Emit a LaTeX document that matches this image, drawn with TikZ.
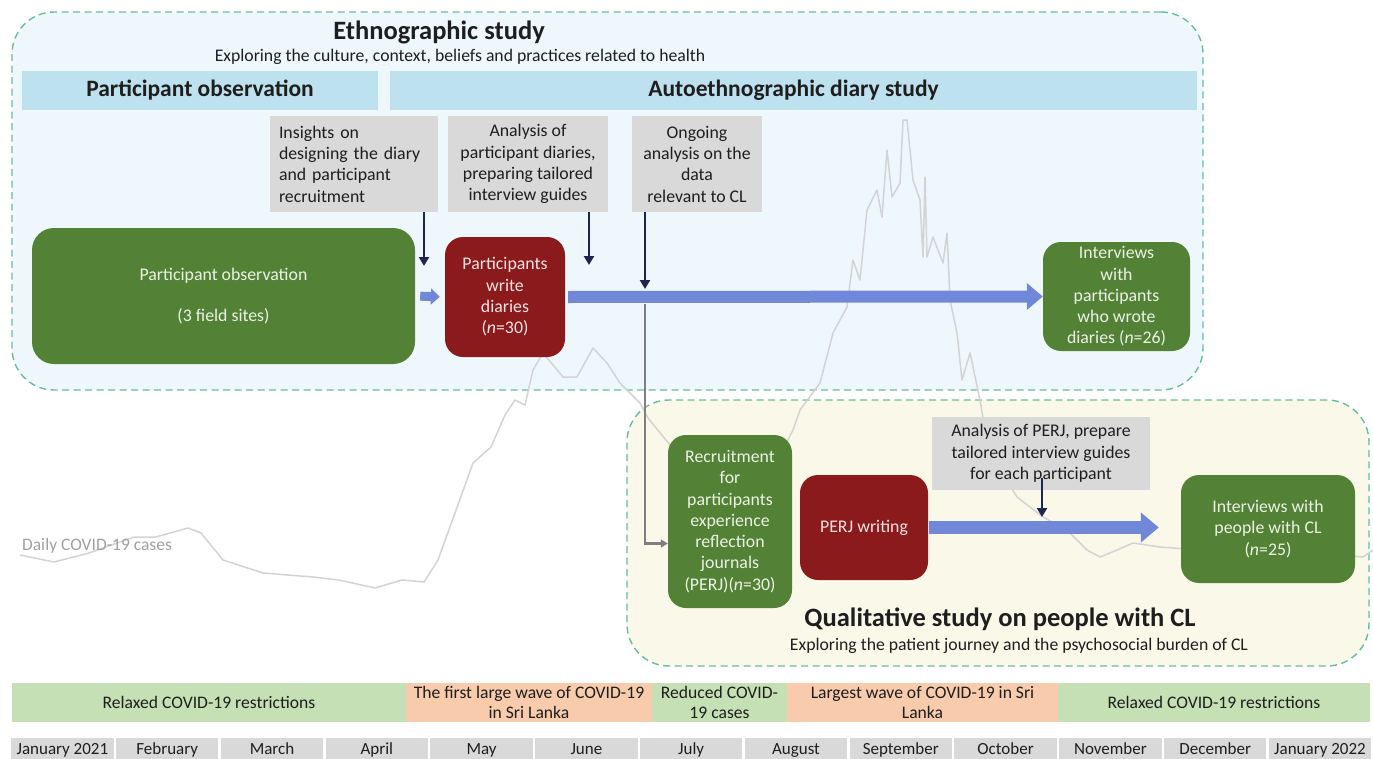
\documentclass[tikz,border=0pt]{standalone}
\usepackage{fontspec}
\setmainfont{Carlito}
\usetikzlibrary{arrows.meta,calc}
\definecolor{ethfill}{HTML}{EEF8FC}
\definecolor{qualfill}{HTML}{FAF8E8}
\definecolor{dashgreen}{HTML}{67BD9C}
\definecolor{hdrblue}{HTML}{BEE1EF}
\definecolor{boxgray}{HTML}{D9D9D9}
\definecolor{boxgreen}{HTML}{538135}
\definecolor{boxred}{HTML}{8B1A1C}
\definecolor{arrblue}{HTML}{7188D9}
\definecolor{navy}{HTML}{1E2650}
\definecolor{conngray}{HTML}{7F7F7F}
\definecolor{covid}{HTML}{D3D3D3}
\definecolor{phgreen}{HTML}{C6E0B5}
\definecolor{phorange}{HTML}{F7CBAC}
\definecolor{greentext}{HTML}{ECF3E6}
\definecolor{redtext}{HTML}{F9E3E3}
\definecolor{textdark}{HTML}{1E1E1E}
\definecolor{labelgray}{HTML}{A0A0A0}
\begin{document}
\begin{tikzpicture}[x=1pt,y=-1pt,
  container/.style={draw=dashgreen, line width=1.4pt, dash pattern=on 7pt off 4.5pt, rounded corners=42pt},
  boxfont/.style={font={\fontsize{17.8}{21.3}\selectfont}},
  greenbox/.style={boxfont, fill=boxgreen, text=greentext, rounded corners=18pt, align=center, inner sep=1pt},
  redbox/.style={boxfont, fill=boxred, text=redtext, rounded corners=18pt, align=center, inner sep=1pt},
  graybox/.style={boxfont, fill=boxgray, text=textdark, align=center, inner sep=1pt},
  hdr/.style={fill=hdrblue, text=textdark, font={\fontsize{23.5}{27}\selectfont\bfseries}, inner sep=0pt},
  titlefont/.style={text=textdark, font={\fontsize{26.5}{31}\selectfont\bfseries}, inner sep=0pt},
  subfont/.style={text=textdark, font={\fontsize{17.7}{21}\selectfont}, inner sep=0pt},
  bluearr/.style={draw=arrblue, line width=12pt, -{Triangle[length=16pt,width=26pt]}},
  bluearrb/.style={draw=arrblue, line width=13pt, -{Triangle[length=18pt,width=29pt]}},
  smallblue/.style={draw=arrblue, line width=9pt, -{Triangle[length=9pt,width=16pt]}},
  navyarr/.style={draw=navy, line width=2.8pt, -{Triangle[length=9pt,width=10pt]}},
  grayconn/.style={draw=conngray, line width=2.8pt, -{Triangle[length=7pt,width=8pt]}},
  covidline/.style={draw=covid, line width=1.5pt, line join=round},
  phase/.style={font={\fontsize{17.6}{20}\selectfont}, text=textdark, align=center, inner sep=0pt, minimum height=39pt},
  monthcell/.style={fill=boxgray, draw=white, line width=2.5pt, font={\fontsize{17}{18}\selectfont}, text=textdark, inner sep=0pt, text height=12pt, text depth=4pt, minimum width=104.8pt, minimum height=28pt}
]
\useasboundingbox (0,0) rectangle (1373,758);

% containers
\node[container, fill=ethfill, minimum width=1191pt, minimum height=378pt] (eth) at (607.5,201) {};
\node[container, fill=qualfill, minimum width=742pt, minimum height=266pt] (qual) at (998,533) {};

% daily covid curve
\draw[covidline] plot coordinates {(20,555) (54,562) (89,553) (134,537) (156,537) (188,528) (201,533) (223,560) (263,573) (313,577) (339,580) (375,588) (402,580) (424,582) (438,560) (455,513) (473,463) (491,447) (505,415) (515,400) (525,405) (533,370) (543,353) (563,377) (577,377) (593,348) (607,363) (620,383) (640,403) (648,418) (670,445) (700,470) (740,470) (780,455) (793,430) (800,410) (820,383) (833,333) (847,307) (853,260) (860,280) (867,210) (877,190) (882,217) (887,150) (892,197) (900,183) (903,120) (907,120) (913,180) (920,200) (923,257) (925,177) (927,257) (933,237) (943,263) (947,233) (950,300) (957,333) (962,380) (970,353) (980,400) (985,430) (1000,470) (1017,497) (1043,517) (1067,530) (1087,550) (1100,557) (1117,550) (1133,543) (1160,547) (1200,550) (1250,548) (1300,552) (1363,557) (1373,550)};

% headers
\node[hdr, minimum width=356pt, minimum height=39pt] (hpo) at (200,90.5) {Participant observation};
\node[hdr, minimum width=807pt, minimum height=39pt] (had) at (793.5,90.5) {Autoethnographic diary study};

% gray boxes
\node[graybox, text width=150pt, align=left, inner xsep=9pt, minimum height=96pt] (g1) at (354,164) {Insights on\\designing the diary\\and participant\\recruitment};
\node[graybox, minimum width=160pt, minimum height=96pt] (g2) at (528,164) {Analysis of\\participant diaries,\\preparing tailored\\interview guides};
\node[graybox, minimum width=130pt, minimum height=96pt] (g3) at (697,164) {Ongoing\\analysis on the\\data\\relevant to CL};
\node[graybox, minimum width=218pt, minimum height=73pt] (g4) at (1041,453.5) {Analysis of PERJ, prepare\\tailored interview guides\\for each participant};

% process boxes
\node[greenbox, minimum width=383pt, minimum height=136pt, rounded corners=22pt] (po) at (223.5,296) {Participant observation\\[20pt](3 field sites)};
\node[redbox, minimum width=120pt, minimum height=120pt] (diaries) at (505,297) {Participants\\write\\diaries\\(\textit{n}=30)};
\node[greenbox, minimum width=147pt, minimum height=109pt] (int1) at (1116.5,296.5) {Interviews\\with\\participants\\who wrote\\diaries (\textit{n}=26)};
\node[greenbox, minimum width=124pt, minimum height=173pt] (recruit) at (730,521.5) {Recruitment\\for\\participants\\experience\\reflection\\journals\\(PERJ)(\textit{n}=30)};
\node[redbox, minimum width=128pt, minimum height=105pt] (perj) at (864,527.5) {PERJ writing};
\node[greenbox, minimum width=174pt, minimum height=108pt] (int2) at (1268,529) {Interviews with\\people with CL\\(\textit{n}=25)};

% connectors
\coordinate (gc) at (645,304);
\draw[grayconn] (gc) |- ([yshift=-22pt]recruit.west);
\draw[smallblue, shorten <=5pt, shorten >=5pt] (po.east) -- (diaries.west);
\draw[bluearr, shorten <=3pt] (diaries.east) -- (int1.west);
\draw[bluearrb, shorten <=1pt, shorten >=22pt] (perj.east) -- (perj.east -| int2.west);
\coordinate (t1) at (424,266);
\coordinate (t2) at (589,265);
\coordinate (t3) at (645,289);
\coordinate (t4) at (1042,517);
\draw[navyarr] (g1.south -| t1) -- (t1);
\draw[navyarr] (g2.south -| t2) -- (t2);
\draw[navyarr] (g3.south -| t3) -- (t3);
\draw[navyarr] ($(g4.south)+(1,-12)$) -- (t4);

% titles
\node[titlefont] (ettl) at (439,32) {Ethnographic study};
\node[subfont] (etsub) at (460,57) {Exploring the culture, context, beliefs and practices related to health};
\node[titlefont] (qttl) at (1000,619) {Qualitative study on people with CL};
\node[subfont] (qsub) at (1019,646) {Exploring the patient journey and the psychosocial burden of CL};
\node[text=labelgray, font={\fontsize{17.5}{20}\selectfont}, inner sep=0pt] (lbl) at (97,546) {Daily COVID-19 cases};

% phase bar
\node[phase, fill=phgreen, minimum width=394pt] (p1) at (209,702.5) {Relaxed COVID-19 restrictions};
\node[phase, fill=phorange, minimum width=246pt] (p2) at (529,702.5) {The first large wave of COVID-19\\in Sri Lanka};
\node[phase, fill=phgreen, minimum width=135pt] (p3) at (719.5,702.5) {Reduced COVID-\\19 cases};
\node[phase, fill=phorange, minimum width=271pt] (p4) at (922.5,702.5) {Largest wave of COVID-19 in Sri\\Lanka};
\node[phase, fill=phgreen, minimum width=312pt] (p5) at (1214,702.5) {Relaxed COVID-19 restrictions};

% months
\foreach \m [count=\i from 0] in {January 2021,February,March,April,May,June,July,August,September,October,November,December,January 2022}
  \node[monthcell] (m\i) at ({62.4+104.8*\i},750.5) {\m};
\end{tikzpicture}
\end{document}
